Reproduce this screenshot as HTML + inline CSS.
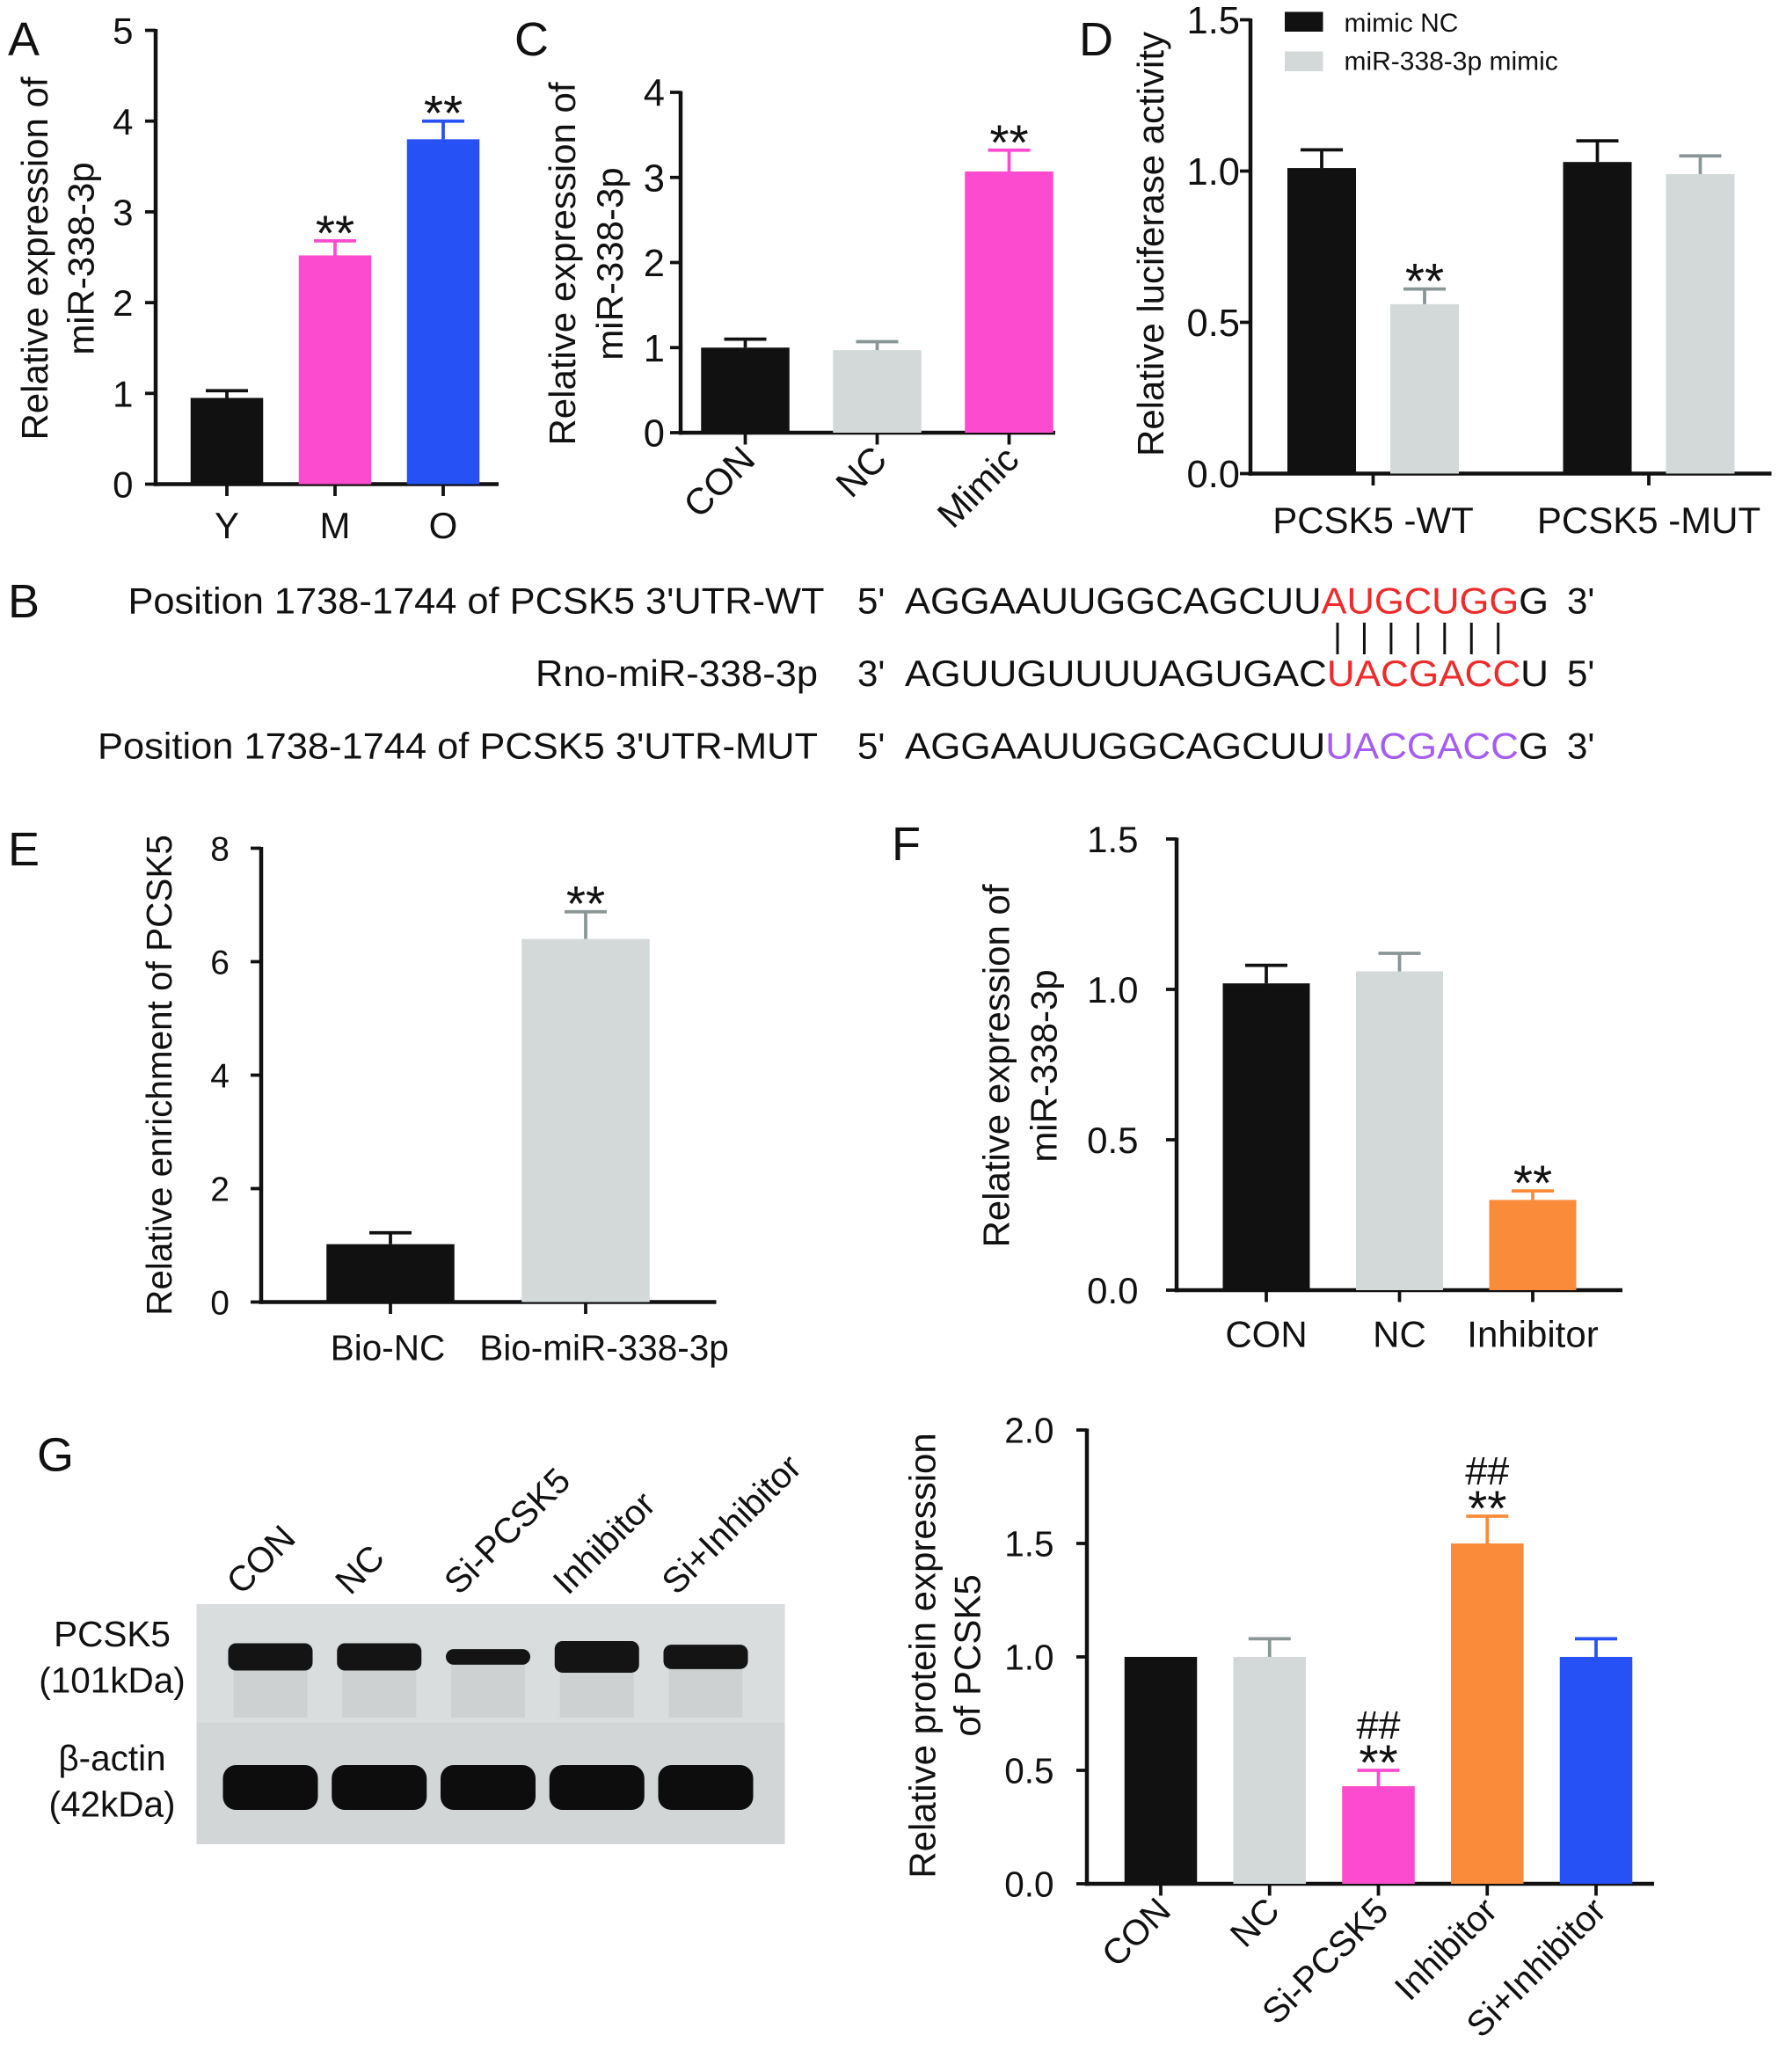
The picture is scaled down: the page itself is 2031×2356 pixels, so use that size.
<!DOCTYPE html>
<html><head><meta charset="utf-8"><style>
html,body{margin:0;padding:0;background:#fff}
svg{display:block}
text{font-family:"Liberation Sans",Arial,sans-serif;fill:#111}
</style></head><body>
<svg id="fig" xmlns="http://www.w3.org/2000/svg" width="2031" height="2356" viewBox="0 0 1354 1570.67" preserveAspectRatio="none">
<g font-size="36">
<text x="6" y="42">A</text>
<text x="390" y="42">C</text>
<text x="818" y="42">D</text>
<text x="6" y="468">B</text>
<text x="6" y="656">E</text>
<text x="676" y="652">F</text>
<text x="28" y="1115">G</text>
</g>
<g id="seq" font-size="28">
<text x="625" y="465" text-anchor="end" textLength="528" lengthAdjust="spacingAndGlyphs">Position 1738-1744 of PCSK5 3'UTR-WT</text>
<text x="650" y="465">5'</text>
<text x="686" y="465" textLength="488" lengthAdjust="spacingAndGlyphs">AGGAAUUGGCAGCUU<tspan style="fill:#ee2a2a">AUGCUGG</tspan>G</text>
<text x="1188" y="465">3'</text>
<text x="620" y="520" text-anchor="end" textLength="214" lengthAdjust="spacingAndGlyphs">Rno-miR-338-3p</text>
<text x="650" y="520">3'</text>
<text x="686" y="520" textLength="488" lengthAdjust="spacingAndGlyphs">AGUUGUUUUAGUGAC<tspan style="fill:#ee2a2a">UACGACC</tspan>U</text>
<text x="1188" y="520">5'</text>
<text x="620" y="575" text-anchor="end" textLength="546" lengthAdjust="spacingAndGlyphs">Position 1738-1744 of PCSK5 3'UTR-MUT</text>
<text x="650" y="575">5'</text>
<text x="686" y="575" textLength="488" lengthAdjust="spacingAndGlyphs">AGGAAUUGGCAGCUU<tspan style="fill:#a55cf0">UACGACC</tspan>G</text>
<text x="1188" y="575">3'</text>
</g>
<g id="blot"></g>
</svg>
<script>
// ----- data -----
const aCats=["Y","M","O"], aVals=[0.95,2.52,3.8], aErr=[0.08,0.16,0.2], aStars=["","**","**"], aTicks=[0,1,2,3,4,5];
const cCats=["CON","NC","Mimic"], cVals=[1.0,0.97,3.07], cErr=[0.1,0.1,0.25], cStars=["","","**"], cTicks=[0,1,2,3,4];
const dGroups=["PCSK5 -WT","PCSK5 -MUT"], dSeries=["mimic NC","miR-338-3p mimic"];
const dNC=[1.01,1.03], dNCErr=[0.06,0.07], dMimic=[0.56,0.99], dMimicErr=[0.05,0.06], dStars=["**",""], dTicks=[0,0.5,1.0,1.5];
const eCats=["Bio-NC","Bio-miR-338-3p"], eVals=[1.02,6.4], eErr=[0.2,0.48], eStars=["","**"], eTicks=[0,2,4,6,8];
const fCats=["CON","NC","Inhibitor"], fVals=[1.02,1.06,0.3], fErr=[0.06,0.06,0.03], fStars=["","","**"], fTicks=[0,0.5,1.0,1.5];
const gCats=["CON","NC","Si-PCSK5","Inhibitor","Si+Inhibitor"], gVals=[1.0,1.0,0.43,1.5,1.0], gErr=[0,0.08,0.07,0.12,0.08], gStars=["","","**","**",""], gHash=["","","##","##",""], gTicks=[0,0.5,1.0,1.5,2.0];
const blotLanes=["CON","NC","Si-PCSK5","Inhibitor","Si+Inhibitor"], pcskBand=[0.85,0.85,0.45,1.0,0.75];

const NS="http://www.w3.org/2000/svg", svg=document.getElementById('fig');
const BLACK="#111", GRAY="#d3d9d9", PINK="#fc4bcf", BLUE="#2651f5", ORANGE="#fa8b3a";
function el(tag,attrs,parent,txt){const e=document.createElementNS(NS,tag);for(const k in attrs)e.setAttribute(k,attrs[k]);if(txt!==undefined)e.textContent=txt;(parent||svg).appendChild(e);return e;}
function T(g,x,y,s,size,anchor,rot){
  return el('text',{x:0,y:0,'font-size':size,'text-anchor':anchor,transform:`translate(${x},${y})${rot?` rotate(${rot})`:''}`},g,s);
}

function axes(g,p,ticks,fmt){
  const y=v=>p.y0-(v-p.vmin)/(p.vmax-p.vmin)*(p.y0-p.y1);
  const ax=el('line',{x1:p.x0,y1:p.y1-1,x2:p.x0,y2:p.y0+1.5,stroke:BLACK,'stroke-width':3},g);
  
  const bx=el('line',{x1:p.x0-1.5,y1:p.y0,x2:p.xe,y2:p.y0,stroke:BLACK,'stroke-width':3},g);
  
  ticks.forEach(t=>{
    const tl=el('line',{x1:p.x0-8,y1:y(t),x2:p.x0,y2:y(t),stroke:BLACK,'stroke-width':2.5},g);
    
    const tt=T(g,p.x0-p.toff,y(t)+p.tf*0.36,fmt(t),p.tf,'end',0);
    
  });
  return y;
}
function bar(g,y,cx,w,v,err,col,p){
  const r=el('rect',{x:cx-w/2,y:y(v),width:w,height:p.y0-y(v),fill:col},g);
  
  if(err>0){
    const ec=col===GRAY?"#8a9595":col;
    const e1=el('line',{x1:cx,y1:y(v),x2:cx,y2:y(v+err),stroke:ec,'stroke-width':2.5},g);
    
    const e2=el('line',{x1:cx-16,y1:y(v+err),x2:cx+16,y2:y(v+err),stroke:ec,'stroke-width':2.5},g);
    
  }
}
function ylab(g,lines,xs,cy,size){
  lines.forEach((s,i)=>{
    const t=T(g,xs[i],cy,s,size||28,'middle',-90);
    
  });
}
function star(g,x,yy,s){ if(!s)return; const t=el('text',{x:x,y:yy,'text-anchor':'middle','font-size':38},g,s);
  }
function xlab(g,cx,yy,s,rot,size){
  const t=rot?T(g,cx+9,yy,s,size||28,'end',-45):T(g,cx,yy,s,size||28,'middle',0);
  
}
function simple(name,cats,vals,err,stars,ticks,fmt,p,cols,centers,w,rot,labY,labShift){
  const g=el('g',{});
  const y=axes(g,p,ticks,fmt);
  cats.forEach((c,i)=>{
    bar(g,y,centers[i],w,vals[i],err[i],cols[i],p);
    const tk=el('line',{x1:centers[i],y1:p.y0,x2:centers[i],y2:p.y0+9,stroke:BLACK,'stroke-width':2.5},g);
    
    star(g,centers[i],y(vals[i]+err[i])+7,stars[i]);
    xlab(g,centers[i]+(labShift?labShift[i]:0),labY,c,rot,p.xf);
  });
  return {g,y};
}
const spaced=(x0,step)=>cats=>cats.map((_,i)=>x0+i*step);
const int=t=>String(t), one=t=>t.toFixed(1);

// A
const A=simple('chart-a',aCats,aVals,aErr,aStars,aTicks,int,{x0:118,xe:378,y0:367,y1:23,vmin:0,vmax:5,toff:17,tf:28,xf:28},[BLACK,PINK,BLUE],spaced(172,82)(aCats),55,false,408);
ylab(A.g,["Relative expression of","miR-338-3p"],[36,71],196);
// C
const C=simple('chart-c',cCats,cVals,cErr,cStars,cTicks,int,{x0:516,xe:800,y0:328,y1:70,vmin:0,vmax:4,toff:12,tf:29,xf:28},[BLACK,GRAY,PINK],spaced(565,100)(cCats),67,true,350);
ylab(C.g,["Relative expression of","miR-338-3p"],[436,472],200);
// D
(function(){
  const g=el('g',{});
  const p={x0:948,xe:1343,y0:359,y1:15,vmin:0,vmax:1.5,toff:8,tf:29};
  const y=axes(g,p,dTicks,one);
  const gc=[1041,1250];
  dGroups.forEach((s,i)=>{
    bar(g,y,gc[i]-39,52,dNC[i],dNCErr[i],BLACK,p);
    bar(g,y,gc[i]+39,52,dMimic[i],dMimicErr[i],GRAY,p);
    star(g,gc[i]+39,y(dMimic[i]+dMimicErr[i])+7,dStars[i]);
    const tk=el('line',{x1:gc[i],y1:p.y0,x2:gc[i],y2:p.y0+9,stroke:BLACK,'stroke-width':2.5},g);
    
    xlab(g,gc[i],404,s,false,28);
  });
  ylab(g,["Relative luciferase activity"],[882],185);
  [BLACK,GRAY].forEach((c,i)=>{
    const r=el('rect',{x:974,y:9+i*30,width:29,height:15,fill:c},g);
    
    const t=T(g,1019,24+i*29,dSeries[i],20,'start',0);
    
  });
})();
// E
const E=simple('chart-e',eCats,eVals,eErr,eStars,eTicks,int,{x0:198,xe:543,y0:987,y1:643,vmin:0,vmax:8,toff:24,tf:26,xf:27},[BLACK,GRAY],[296,444],97,false,1031,[-2,14]);
ylab(E.g,["Relative enrichment of PCSK5"],[130],815,27);
// F
const F=simple('chart-f',fCats,fVals,fErr,fStars,fTicks,one,{x0:892,xe:1230,y0:978,y1:636,vmin:0,vmax:1.5,toff:29,tf:28,xf:28},[BLACK,GRAY,ORANGE],spaced(960,101)(fCats),66,false,1021);
ylab(F.g,["Relative expression of","miR-338-3p"],[765,801],808);
// G chart
const G=simple('chart-g',gCats,gVals,gErr,gStars,gTicks,one,{x0:824,xe:1254,y0:1428,y1:1084,vmin:0,vmax:2.0,toff:25,tf:27,xf:27},[BLACK,GRAY,PINK,ORANGE,BLUE],spaced(880,82.5)(gCats),55,true,1450);
gHash.forEach((h,i)=>{ if(!h)return; const cx=880+i*82.5;
  const t=T(G.g,cx,G.y(gVals[i]+gErr[i])-24,h,30,'middle',0);
  });
ylab(G.g,["Relative protein expression","of PCSK5"],[709,743],1255);

// Blot
(function(){
  const g=document.getElementById('blot');
  const bg=el('rect',{x:149,y:1216,width:446,height:182,fill:"#d9dddd"},g);
  
  const sep=el('rect',{x:149,y:1306,width:446,height:92,fill:"#d2d6d6"},g);
  
  blotLanes.forEach((s,i)=>{
    const cx=205+i*82.5;
    const smear=el('rect',{x:cx-28,y:1262,width:56,height:40,fill:"#cdd1d1"},g);
    
    const b=el('rect',{x:cx-32,y:1255-11*pcskBand[i],width:64,height:22*pcskBand[i]+2,rx:6,fill:"#141414"},g);
    
    const a=el('rect',{x:cx-36,y:1338,width:72,height:34,rx:10,fill:"#0d0d0d"},g);
    
    const t=T(g,cx-22,1210,s,27,'start',-45);
    
  });
  [["PCSK5",1248],["(101kDa)",1283],["β-actin",1342],["(42kDa)",1377]].forEach(([s,yy])=>{
    const t=T(g,85,yy,s,27,'middle',0);
    
  });
})();
// pairing lines
for(let i=0;i<7;i++){
  const l=el('line',{x1:1014+i*20.3,y1:472,x2:1014+i*20.3,y2:496,stroke:BLACK,'stroke-width':2});
  
}
</script>
</body></html>
